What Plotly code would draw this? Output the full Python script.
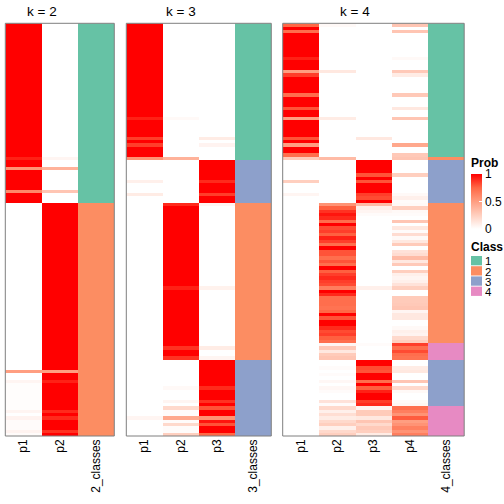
import plotly.graph_objects as go

W = H = 504
N_ROWS = 124


def runs(*pairs):
    out = []
    for v, n in pairs:
        out += [v] * n
    return out


# ---------------- k = 2 ----------------
K2_P1 = runs((1, 40), (0.92, 1), (1, 2), (0.55, 1), (1, 6), (0.6, 1), (1, 3),
             (0, 50), (0.5, 1), (0, 2), (0.05, 1), (0.01, 8), (0.05, 1), (0, 1),
             (0.06, 1), (0.02, 3), (0.06, 1), (0.02, 1))
K2_P2 = runs((0, 40), (0.05, 1), (0, 2), (0.4, 1), (0, 6), (0.3, 1), (0, 3),
             (1, 50), (0.5, 1), (1, 2), (0.92, 1), (1, 8), (0.9, 1), (1, 1),
             (0.9, 1), (1, 3), (0.88, 1), (1, 1))
K2_CLASS = runs((1, 54), (2, 70))

# ---------------- k = 3 ----------------
K3_P1 = runs((1, 28), (0.92, 1), (1, 5), (0.85, 1), (1, 1), (0.85, 1), (1, 3),
             (0.55, 1), (0, 6), (0.08, 1), (0, 3), (0.1, 1), (0, 2), (0, 64),
             (0.05, 1), (0, 5))
K3_P2 = runs((0, 28), (0.03, 1), (0, 11), (0.4, 1), (0, 13), (0.9, 1), (1, 24),
             (0.92, 1), (1, 17), (0.88, 1), (1, 2), (0.88, 1), (0, 8), (0.03, 1),
             (0, 3), (0.05, 1), (0, 1), (0.2, 1), (0.02, 2), (0.45, 1), (0.02, 1),
             (0.2, 1), (0.02, 2), (0.25, 1))
K3_P3 = runs((0, 34), (0.1, 1), (0, 1), (0.06, 1), (0, 4), (1, 6), (0.9, 1),
             (1, 3), (0.85, 1), (1, 2), (0.05, 1), (0, 24), (0.07, 1), (0, 17),
             (0.1, 1), (0, 2), (0.05, 1), (1, 8), (0.9, 1), (1, 3), (0.88, 1),
             (1, 1), (0.8, 1), (1, 2), (0.55, 1), (0.95, 1), (0.8, 1), (1, 2),
             (0.75, 1))
K3_CLASS = runs((1, 41), (3, 13), (2, 47), (3, 23))

# ---------------- k = 4 ----------------
K4_P1 = runs((0.75, 1), (1, 1), (0.72, 1), (1, 7), (0.92, 1), (1, 3), (0.5, 1),
             (0.85, 1), (1, 5), (0.72, 1), (1, 3), (0.8, 1), (1, 2), (0.5, 1),
             (1, 5), (0.8, 1), (1, 1), (0.5, 1), (1, 2), (0.72, 1), (0.27, 1),
             (0, 6), (0.25, 1), (0, 3), (0.05, 1), (0, 2), (0, 70))
K4_P2 = runs((0.03, 1), (0, 13), (0.12, 1), (0, 13), (0.1, 1), (0, 11), (0.35, 1),
             (0, 13)) + [
    0.55, 0.77, 0.88, 0.95, 0.9, 0.72, 1, 0.82, 0.85, 0.77,
    0.92, 0.85, 0.72, 1, 0.8, 0.8, 0.72, 0.8, 0.72, 1,
    0.77, 0.85, 0.9, 0.85, 0.82, 0.65, 1, 0.9, 0.72, 0.72,
    0.72, 0.7, 0.75, 1, 0.8, 1, 1, 0.9, 0.82, 0.85,
    0.77, 0.72, 0.05, 0.28, 0.12, 0.27, 0.3, 0, 0, 0.02,
    0, 0.02, 0, 0.04, 0, 0.04, 0.02, 0, 0, 0.15,
    0.02, 0.2, 0.08, 0.17, 0.1, 0.2, 0.25, 0.08, 0.2, 0.25]
K4_P3 = runs((0, 34), (0.12, 1), (0, 6), (1, 4), (0.8, 1), (1, 1), (0.8, 1),
             (1, 3), (0.85, 1), (0.82, 1), (1, 1), (0.35, 1), (0.08, 1), (0.05, 1),
             (0.02, 1), (0, 21), (0.08, 1), (0, 16), (0.02, 1), (0, 4)) + [
    1, 1, 0.82, 0.8, 1, 1, 0.72, 1, 0.77, 0.92,
    1, 1, 0.85, 0.9, 0.05, 0.27, 0.27, 0.12, 0.3, 0.2,
    0.28, 0.25, 0.1]
K4_P4 = runs((0.3, 1), (0, 1), (0.3, 1), (0, 7), (0.03, 1), (0, 3), (0.28, 1),
             (0.1, 1), (0, 5), (0.28, 1), (0, 3), (0.12, 1), (0, 2), (0.3, 1),
             (0, 7), (0.45, 1), (0, 2), (0.28, 1), (0.3, 1), (0, 4), (0.25, 1),
             (0, 5), (0.03, 1), (0.08, 1), (0.02, 1)) + [
    0.03, 0.25, 0.03, 0.02, 0, 0.3, 0, 0.12, 0.02, 0.18,
    0.03, 0.12, 0.27, 0, 0.15, 0.18, 0.35, 0.12, 0.28, 0,
    0.25, 0.08, 0.05, 0.08, 0.15, 0.25, 0, 0, 0.27, 0.27,
    0.28, 0.3, 0.05, 0.12, 0.12, 0, 0, 0.03, 0.08, 0.06,
    0.2, 0.25, 0.85, 0.72, 0.82, 0.72, 0.7, 0, 0, 0.1,
    0.12, 0, 0, 0.3, 0, 0.2, 0.03, 0, 0, 0.03,
    0.05, 0.72, 0.65, 0.55, 0.78, 0.5, 0.55, 0.64, 0.55, 0.65]
K4_CLASS = runs((1, 40), (2, 1), (3, 13), (2, 42), (4, 5), (3, 14), (4, 9))

PANELS = [
    ("k = 2", [K2_P1, K2_P2], K2_CLASS, "2_classes"),
    ("k = 3", [K3_P1, K3_P2, K3_P3], K3_CLASS, "3_classes"),
    ("k = 4", [K4_P1, K4_P2, K4_P3, K4_P4], K4_CLASS, "4_classes"),
]
CLASS_LABELS = ["1", "2", "3", "4"]
CLASS_COLORS = ["#66C2A5", "#FC8D62", "#8DA0CB", "#E78AC3"]

PROB_SCALE = [[0, "#FFFFFF"], [0.25, "#FFCFBF"], [0.5, "#FF9E81"],
              [0.75, "#FF6846"], [1, "#FF0000"]]
CLASS_SCALE = [[0, CLASS_COLORS[0]], [0.1666, CLASS_COLORS[0]],
               [0.1667, CLASS_COLORS[1]], [0.5, CLASS_COLORS[1]],
               [0.5001, CLASS_COLORS[2]], [0.8333, CLASS_COLORS[2]],
               [0.8334, CLASS_COLORS[3]], [1, CLASS_COLORS[3]]]

# panel pixel extents (left, right) and vertical extent
PANEL_PX = [(5.3, 114.3), (126.3, 271.3), (282.7, 464.2)]
TOP_PX, BOT_PX = 23.3, 436.0


def px_x(v):
    return v / W


def px_y(v):
    return 1 - v / H


FONT = "Liberation Sans, Arial, sans-serif"
fig = go.Figure()
rows = list(range(N_ROWS))
annotations = []
shapes = []

for i, (title, probs, cls, cls_label) in enumerate(PANELS):
    k = len(probs)
    ax = "" if i == 0 else str(i + 1)
    cols = [f"p{j + 1}" for j in range(k)]
    allcols = cols + [cls_label]
    z = [[probs[j][r] for j in range(k)] for r in rows]
    fig.add_trace(go.Heatmap(
        x=cols, y=rows, z=z, coloraxis="coloraxis",
        xaxis="x" + ax, yaxis="y", hoverinfo="skip"))
    zc = [[None] * k + [cls[r]] for r in rows]
    fig.add_trace(go.Heatmap(
        x=allcols, y=rows, z=zc, colorscale=CLASS_SCALE, zmin=1, zmax=4,
        showscale=False, xaxis="x" + ax, yaxis="y", hoverinfo="skip"))
    l, r = PANEL_PX[i]
    fig.update_layout(**{
        "xaxis" + ax: dict(
            domain=[px_x(l), px_x(r)], anchor="y", type="category",
            categoryorder="array", categoryarray=allcols,
            range=[-0.5, k + 0.5], tickangle=-90, ticks="",
            showgrid=False, zeroline=False, automargin=False,
            tickfont=dict(family=FONT, size=12, color="#000000"),
            showline=False)
    })
    shapes.append(dict(type="rect", xref="x" + ax + " domain", yref="y domain",
                       x0=0, x1=1, y0=0, y1=1,
                       line=dict(color="#7f7f7f", width=1)))
    # title over probability columns
    annotations.append(dict(
        x=-0.5 + k / 2, xref="x" + ax, y=px_y(11), yref="paper",
        text=title, showarrow=False, xanchor="center", yanchor="middle",
        font=dict(family=FONT, size=13.5, color="#000000")))

# legend texts and keys
annotations.append(dict(x=px_x(469), y=px_y(163), xref="paper", yref="paper",
                        text="<b>Prob</b>", showarrow=False, xanchor="left",
                        yanchor="middle",
                        font=dict(family=FONT, size=12, color="#000000")))
annotations.append(dict(x=px_x(469), y=px_y(247), xref="paper", yref="paper",
                        text="<b>Class</b>", showarrow=False, xanchor="left",
                        yanchor="middle",
                        font=dict(family=FONT, size=12, color="#000000")))
for j, (lab, col) in enumerate(zip(CLASS_LABELS, CLASS_COLORS)):
    top = 256 + 10.2 * j
    shapes.append(dict(type="rect", xref="paper", yref="paper",
                       x0=px_x(471), x1=px_x(482),
                       y0=px_y(top + 9.3), y1=px_y(top),
                       fillcolor=col, line=dict(width=0)))
    annotations.append(dict(x=px_x(484), y=px_y(top + 4.8), xref="paper",
                            yref="paper", text=lab, showarrow=False,
                            xanchor="left", yanchor="middle", height=9,
                            borderpad=0,
                            font=dict(family=FONT, size=11.5, color="#000000")))

fig.update_layout(
    width=W, height=H,
    margin=dict(l=0, r=0, t=0, b=0, pad=0, autoexpand=False),
    paper_bgcolor="white", plot_bgcolor="white",
    yaxis=dict(domain=[px_y(BOT_PX), px_y(TOP_PX)], range=[N_ROWS - 0.5, -0.5],
               showticklabels=False, ticks="", showgrid=False, zeroline=False,
               automargin=False),
    coloraxis=dict(
        colorscale=PROB_SCALE, cmin=0, cmax=1,
        colorbar=dict(
            x=px_x(471), xanchor="left", y=px_y(174), yanchor="top",
            len=55, lenmode="pixels", thickness=11, thicknessmode="pixels",
            tickvals=[0, 0.5, 1], ticktext=["0", "0.5", "1"],
            ticks="inside", tickcolor="white", ticklen=3,
            outlinewidth=0, xpad=0, ypad=0,
            tickfont=dict(family=FONT, size=12, color="#000000"))),
    annotations=annotations, shapes=shapes,
    showlegend=False,
)

fig.write_html(
    "out.html",
    config={"displayModeBar": False},
    post_script="document.body.style.margin='0';"
                "document.body.style.overflow='hidden';",
)
